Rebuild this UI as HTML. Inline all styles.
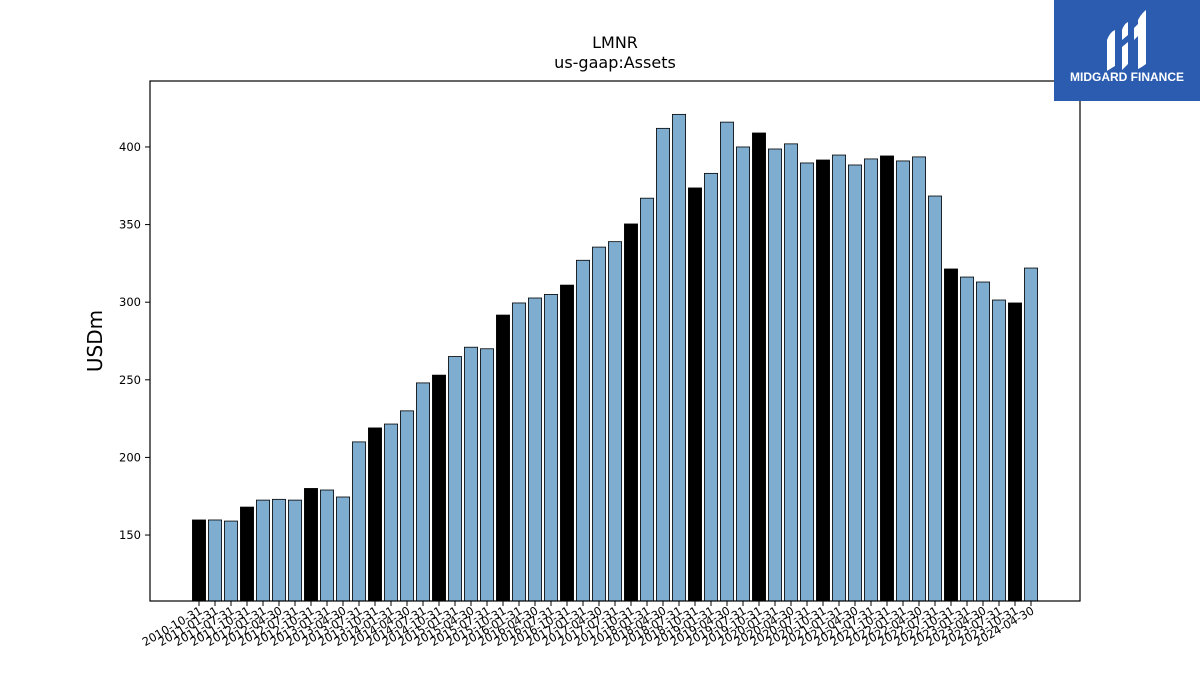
<!DOCTYPE html>
<html><head><meta charset="utf-8"><style>
body{margin:0;background:#fff;font-family:"Liberation Sans","DejaVu Sans",sans-serif;}
</style></head><body>
<svg id="chart" width="1200" height="675" xmlns="http://www.w3.org/2000/svg" font-family="DejaVu Sans, Liberation Sans, sans-serif">
<rect width="1200" height="675" fill="#fff"/>
<text x="615" y="48" font-size="16" text-anchor="middle">LMNR</text>
<text x="615" y="68" font-size="16" text-anchor="middle">us-gaap:Assets</text>
<text transform="translate(102,341) rotate(-90)" font-size="20" text-anchor="middle">USDm</text>
<g id="bars"></g>
<g id="yticks"></g>
<g id="xticks"></g>
<rect x="150" y="81" width="930" height="520" fill="none" stroke="#000" stroke-width="1.2"/>
<g>
<rect x="1054" y="0" width="146" height="101" fill="#2b5cb0"/>
<path d="M1107 40 q3-8 8-10 v36 q-5 3-8 5z M1122 30 q2-6 6-8 v13 l-6 5z M1122 47 l6-5 v22 l-6 6z M1134 28 l4-4 v12 l-4 4z M1138 20 q3-6 8-10 v54 q-4 3-8 5z" fill="#fff"/>
<text x="1127" y="81" font-size="12" font-weight="bold" fill="#fff" text-anchor="middle" font-family="Liberation Sans, sans-serif">MIDGARD FINANCE</text>
</g>
</svg>
<script>
const categories=["2010-10-31","2011-01-31","2011-07-31","2011-10-31","2012-01-31","2012-04-30","2012-07-31","2012-10-31","2013-01-31","2013-04-30","2013-07-31","2013-10-31","2014-01-31","2014-04-30","2014-07-31","2014-10-31","2015-01-31","2015-04-30","2015-07-31","2015-10-31","2016-01-31","2016-04-30","2016-07-31","2016-10-31","2017-01-31","2017-04-30","2017-07-31","2017-10-31","2018-01-31","2018-04-30","2018-07-31","2018-10-31","2019-01-31","2019-04-30","2019-07-31","2019-10-31","2020-01-31","2020-04-30","2020-07-31","2020-10-31","2021-01-31","2021-04-30","2021-07-31","2021-10-31","2022-01-31","2022-04-30","2022-07-31","2022-10-31","2023-01-31","2023-04-30","2023-07-31","2023-10-31","2024-04-30"];
const values=[159.7,159.7,159,168,172.5,173,172.5,180,179,174.5,210,219,221.5,230,248,253,265,271,270,291.7,299.5,302.7,305,311,327,335.5,339,350.4,367,412,421,373.6,383,416,400,409,398.7,402,389.7,391.6,394.8,388.4,392.3,394.2,391,393.6,368.4,321.4,316.2,313,301.4,299.5,322];
const yTicks=[150,200,250,300,350,400];
const NS="http://www.w3.org/2000/svg";
const yMin=107.5,yMax=442.5,plotTop=81,plotBot=601,plotLeft=150,plotRight=1080;
const yS=v=>plotBot-(v-yMin)/(yMax-yMin)*(plotBot-plotTop);
const nCat=categories.length,step=(1031-199)/(nCat-1),x0=199;
const xS=i=>x0+i*step;
const bw=step*0.82;
const barsG=document.getElementById('bars'),xtG=document.getElementById('xticks'),ytG=document.getElementById('yticks');
values.forEach((v,i)=>{
 const r=document.createElementNS(NS,'rect');
 
 
 r.setAttribute('x',xS(i)-bw/2);r.setAttribute('y',yS(v));
 r.setAttribute('width',bw);r.setAttribute('height',plotBot-yS(v));
 r.setAttribute('fill',categories[i].endsWith('-10-31')?'#000':'#7eadd0');
 r.setAttribute('stroke','#000');r.setAttribute('stroke-width','0.8');
 barsG.appendChild(r);
 const t=document.createElementNS(NS,'line');
 
 
 t.setAttribute('x1',xS(i));t.setAttribute('x2',xS(i));t.setAttribute('y1',plotBot);t.setAttribute('y2',plotBot+5);t.setAttribute('stroke','#000');
 xtG.appendChild(t);
 const l=document.createElementNS(NS,'text');
 
 
 l.setAttribute('font-size','11.5');l.setAttribute('text-anchor','end');
 l.setAttribute('transform',`translate(${xS(i)+4},${plotBot+12}) rotate(-30)`);
 l.textContent=categories[i];xtG.appendChild(l);
});
yTicks.forEach(v=>{
 const t=document.createElementNS(NS,'line');
 
 
 t.setAttribute('x1',plotLeft-5);t.setAttribute('x2',plotLeft);t.setAttribute('y1',yS(v));t.setAttribute('y2',yS(v));t.setAttribute('stroke','#000');
 ytG.appendChild(t);
 const l=document.createElementNS(NS,'text');
 
 
 l.setAttribute('font-size','11.5');l.setAttribute('text-anchor','end');
 l.setAttribute('x',plotLeft-9);l.setAttribute('y',yS(v)+4);l.textContent=v;ytG.appendChild(l);
});
</script>
</body></html>
